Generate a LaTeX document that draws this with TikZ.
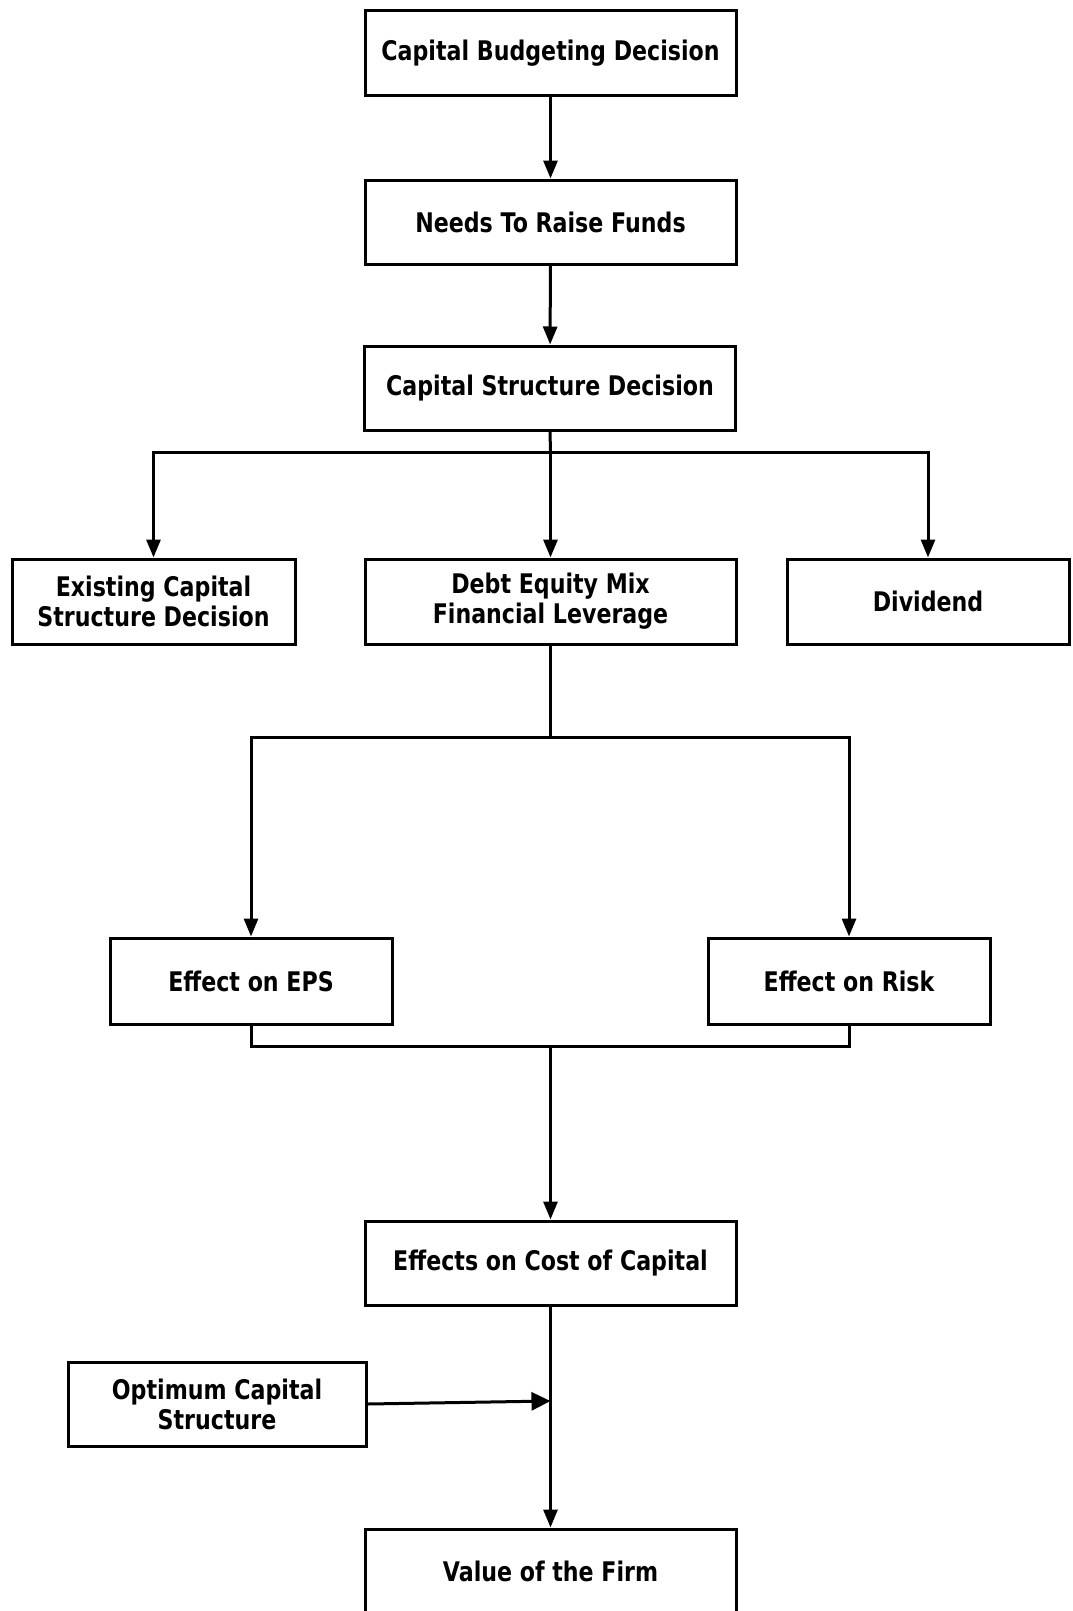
\documentclass[tikz,border=0pt]{standalone}
\usepackage{fontspec}
\setmainfont{DejaVu Sans}[FakeStretch=0.82]
\usetikzlibrary{arrows.meta}
\tikzset{
  box/.style={draw,line width=3pt,minimum height=84pt,align=center,
    font=\fontsize{27}{30}\selectfont\bfseries,inner sep=2pt},
  wide/.style={box,minimum width=371pt},
  narrow/.style={box,minimum width=282pt},
  flow/.style={line width=3pt,-{Triangle[length=18pt,width=14pt]}},
  bigflow/.style={line width=3pt,-{Triangle[length=19pt,width=18pt]}}
}
\begin{document}
\begin{tikzpicture}[x=1pt,y=-1pt,line join=miter]
  \useasboundingbox (0,0) rectangle (1073,1611);
  \node[wide] (budget) at (550.5,53) {Capital Budgeting Decision};
  \node[wide] (funds) at (550.5,222) {Needs To Raise Funds};
  \node[wide] (structure) at (550,388) {Capital Structure Decision};
  \node[narrow,minimum width=283pt,minimum height=85pt] (existing) at (153.5,601.5) {Existing Capital\\Structure Decision};
  \node[wide,minimum height=85pt] (mix) at (550.5,601.5) {Debt Equity Mix\\Financial Leverage};
  \node[narrow,minimum height=85pt] (dividend) at (928,601.5) {Dividend};
  \node[narrow,minimum height=86pt] (eps) at (251,981) {Effect on EPS};
  \node[narrow,minimum height=86pt] (risk) at (849,981) {Effect on Risk};
  \node[wide] (cost) at (550.5,1263) {Effects on Cost of Capital};
  \node[box,minimum width=298pt] (optimum) at (217,1404) {Optimum Capital\\Structure};
  \node[wide] (value) at (550.5,1571) {Value of the Firm};
  \coordinate (split) at (550.5,452);
  \coordinate (fork) at (550.5,737);
  \coordinate (join) at (550.5,1046);
  \coordinate (meet) at (550.5,1401);
  \draw[flow] (budget) -- (funds);
  \draw[flow] (funds) -- (structure);
  \draw[line width=3pt] (structure.south) -- (split);
  \draw[flow] (split) -| (existing.north);
  \draw[flow] (split) -| (dividend.north);
  \draw[flow] (split) -- (mix.north);
  \draw[line width=3pt] (mix.south) -- (fork);
  \draw[flow] (fork) -| (eps.north);
  \draw[flow] (fork) -| (risk.north);
  \draw[line width=3pt] (eps.south) |- (join) -| (risk.south);
  \draw[flow] (join) -- (cost.north);
  \draw[flow] (cost.south) -- (value.north);
  \draw[bigflow] (optimum.east) -- (meet);
\end{tikzpicture}
\end{document}
